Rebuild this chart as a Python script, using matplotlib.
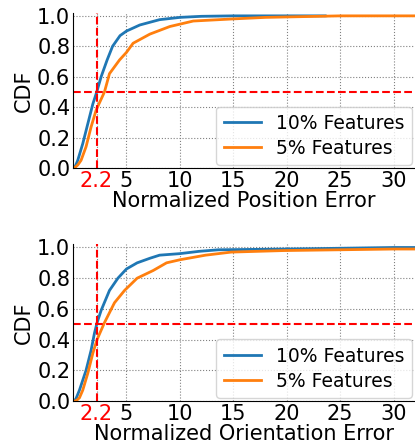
import numpy as np
import matplotlib.pyplot as plt

# CDF curves (error, cdf)
pos_10_x = [0.0, 0.2, 0.44, 0.91, 1.38, 1.85, 2.22, 2.63, 3.19, 3.7, 4.4, 5.0, 6.25, 8.1, 10.0, 12.0, 15.0, 20.0, 23.6]
pos_10_y = [0.0, 0.01, 0.05, 0.16, 0.29, 0.42, 0.5, 0.6, 0.71, 0.8, 0.87, 0.9, 0.94, 0.975, 0.99, 0.997, 1.0, 1.0, 1.0]
pos_5_x = [0.0, 0.13, 0.45, 0.75, 1.22, 1.69, 2.16, 2.94, 3.41, 4.35, 5.0, 5.62, 7.19, 9.06, 11.25, 15.0, 18.0, 25.0, 32.0]
pos_5_y = [0.0, 0.0, 0.02, 0.05, 0.14, 0.27, 0.38, 0.5, 0.62, 0.71, 0.76, 0.82, 0.88, 0.93, 0.966, 0.98, 0.99, 1.0, 1.0]

ori_10_x = [0.0, 0.25, 0.6, 1.22, 1.69, 2.0, 2.25, 2.63, 3.41, 4.2, 5.0, 6.0, 7.2, 8.1, 10.0, 11.8, 13.6, 20.0, 30.0, 32.0]
ori_10_y = [0.0, 0.01, 0.07, 0.2, 0.33, 0.44, 0.51, 0.59, 0.72, 0.8, 0.86, 0.9, 0.93, 0.95, 0.96, 0.975, 0.985, 0.99, 1.0, 1.0]
ori_5_x = [0.0, 0.28, 0.6, 0.91, 1.38, 1.85, 2.25, 2.94, 3.88, 4.82, 6.0, 7.5, 8.75, 10.0, 12.4, 14.8, 19.7, 30.0, 32.0]
ori_5_y = [0.0, 0.0, 0.02, 0.07, 0.18, 0.31, 0.4, 0.51, 0.64, 0.72, 0.8, 0.85, 0.9, 0.92, 0.95, 0.97, 0.98, 0.99, 0.99]

x_ticks = [2.2, 5, 10, 15, 20, 25, 30]
x_ticklabels = ['2.2', '5', '10', '15', '20', '25', '30']
median_err = 2.2

fig = plt.figure(figsize=(4.15, 4.42), dpi=100)
ax1 = fig.add_axes([0.176, 0.620, 0.824, 0.351])
ax2 = fig.add_axes([0.176, 0.093, 0.824, 0.354])

panels = [
    (ax1, pos_10_x, pos_10_y, pos_5_x, pos_5_y, 'Normalized Position Error'),
    (ax2, ori_10_x, ori_10_y, ori_5_x, ori_5_y, 'Normalized Orientation Error'),
]

for ax, x10, y10, x5, y5, xlabel in panels:
    ax.plot(x10, y10, color='#1f77b4', lw=2, label='10% Features')
    ax.plot(x5, y5, color='#ff7f0e', lw=2, label='5% Features')
    ax.axvline(median_err, color='red', ls='--', lw=1.5)
    ax.axhline(0.5, color='red', ls='--', lw=1.5)

    ax.set_xlim(0, 32)
    ax.set_ylim(0, 1.02)
    ax.set_xticks(x_ticks)
    ax.set_xticklabels(x_ticklabels)
    ax.get_xticklabels()[0].set_color('red')
    ax.set_yticks([0.0, 0.2, 0.4, 0.6, 0.8, 1.0])
    ax.tick_params(labelsize=15, length=0, pad=2)

    ax.set_xlabel(xlabel, fontsize=15, labelpad=0)
    ax.set_ylabel('CDF', fontsize=15, labelpad=2)

    ax.spines['top'].set_visible(False)
    ax.spines['right'].set_visible(False)
    ax.grid(color='grey', linestyle=':', linewidth=0.8)

    ax.legend(loc='lower right', fontsize=13.5, handlelength=2.0,
              labelspacing=0.3, borderaxespad=0.15, edgecolor='#cccccc')

plt.savefig('out.png', dpi=100)
